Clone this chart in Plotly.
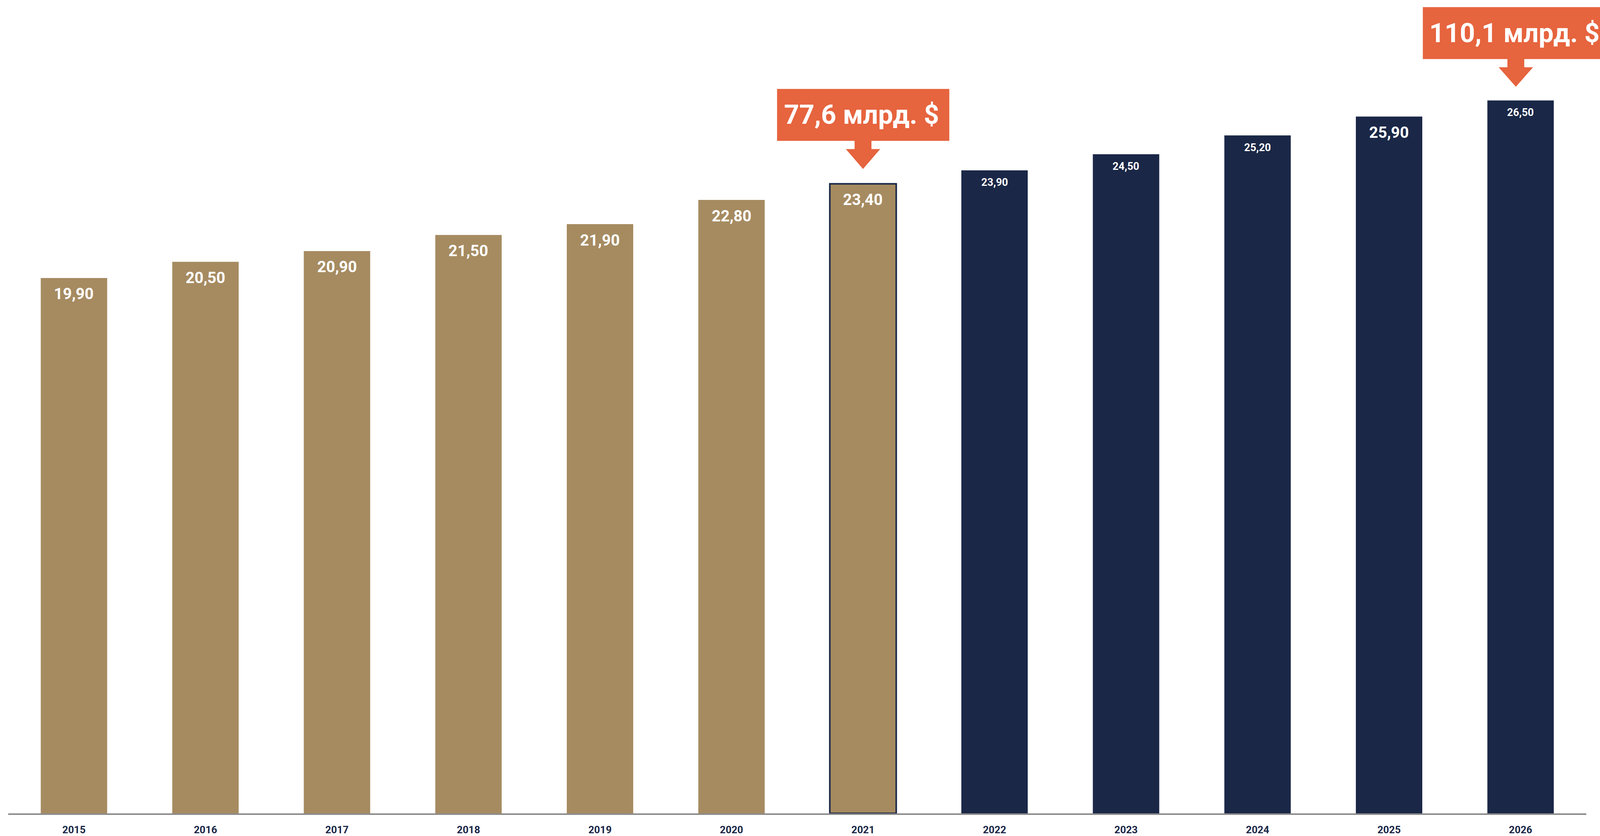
import plotly.graph_objects as go

# ---- data ----
years = ["2015", "2016", "2017", "2018", "2019", "2020", "2021",
         "2022", "2023", "2024", "2025", "2026"]
values = [19.90, 20.50, 20.90, 21.50, 21.90, 22.80, 23.40,
          23.90, 24.50, 25.20, 25.90, 26.50]
value_labels = ["19,90", "20,50", "20,90", "21,50", "21,90", "22,80", "23,40",
                "23,90", "24,50", "25,20", "25,90", "26,50"]
is_forecast = [False] * 7 + [True] * 5
large_label = [True] * 7 + [False, False, False, True, False]

callout_years = ["2021", "2026"]
callout_texts = ["77,6 млрд. $", "110,1 млрд. $"]

# ---- style ----
GOLD = "#A68B61"
NAVY = "#1A2747"
ORANGE = "#E6643E"
AXIS_GRAY = "#8C8C8C"
FONT = "Roboto"

# the browser viewport is 4096 px wide; the reference layout (4747 wide)
# is mapped horizontally onto it
W, H = 4096, 2141
SX = W / 4747
M_L, M_R, M_T, M_B = 21, 35, 0, 58
plot_w = W - M_L - M_R
plot_h = H - M_T - M_B
PX_PER_UNIT = 68.9
y_max = plot_h / PX_PER_UNIT
n = len(years)
PX_PER_CAT = plot_w / n


def paper_x(i, dx):
    """category index + pixel offset (reference px) -> paper fraction"""
    return ((i + 0.5) * PX_PER_CAT + dx * SX) / plot_w


def paper_y(v, dy):
    """value + pixel offset upward -> paper fraction"""
    return (v * PX_PER_UNIT + dy) / plot_h


colors = [NAVY if f else GOLD for f in is_forecast]
line_w = [4 if y == "2021" else 0 for y in years]

fig = go.Figure()
fig.add_trace(go.Bar(
    x=list(range(n)), y=values,
    marker=dict(color=colors, line=dict(color=NAVY, width=line_w)),
    hoverinfo="skip",
))

annotations = []
for i, (v, lab, big) in enumerate(zip(values, value_labels, large_label)):
    annotations.append(dict(
        x=i, y=v, xref="x", yref="y", text=f"<b>{lab}</b>",
        showarrow=False, yanchor="middle", xanchor="center",
        yshift=-41 if big else -31,
        font=dict(family=FONT, size=40 if big else 27, color="white"),
    ))

shapes = []
callout_geom = {
    "2021": dict(bx0=-255, bx1=256, by0=110, by1=243, ax=0,
                 stem_bot=89, tip=38, tx=-4),
    "2026": dict(bx0=-290, bx1=360, by0=106, by1=239, ax=-14,
                 stem_bot=85, tip=35, tx=-18),
}
for cy, ct in zip(callout_years, callout_texts):
    i = years.index(cy)
    v = values[i]
    g = callout_geom[cy]
    shapes.append(dict(
        type="rect", xref="paper", yref="paper",
        x0=paper_x(i, g["bx0"]), x1=paper_x(i, g["bx1"]),
        y0=paper_y(v, g["by0"]), y1=paper_y(v, g["by1"]),
        fillcolor=ORANGE, line=dict(width=0), layer="above",
    ))
    a = g["ax"]
    pts = [(a - 25, g["by0"] + 1), (a + 25, g["by0"] + 1), (a + 25, g["stem_bot"]),
           (a + 51, g["stem_bot"]), (a, g["tip"]), (a - 51, g["stem_bot"]),
           (a - 25, g["stem_bot"])]
    path = "M" + " L".join(f"{paper_x(i, dx):.6f},{paper_y(v, dy):.6f}"
                           for dx, dy in pts) + " Z"
    shapes.append(dict(
        type="path", xref="paper", yref="paper", path=path,
        fillcolor=ORANGE, line=dict(width=0), layer="above",
    ))
    annotations.append(dict(
        x=paper_x(i, g["tx"]), y=paper_y(v, (g["by0"] + g["by1"]) / 2),
        xref="paper", yref="paper", text=f"<b>{ct}</b>",
        showarrow=False, xanchor="center", yanchor="middle",
        font=dict(family=FONT, size=68, color="white"),
    ))

fig.update_layout(
    width=W, height=H, autosize=False,
    margin=dict(l=M_L, r=M_R, t=M_T, b=M_B, pad=0),
    paper_bgcolor="white", plot_bgcolor="white",
    bargap=0.495, showlegend=False,
    shapes=shapes, annotations=annotations,
    xaxis=dict(
        type="linear", range=[-0.5, n - 0.5],
        tickmode="array", tickvals=list(range(n)), ticktext=years,
        showline=True, linecolor=AXIS_GRAY, linewidth=4,
        ticks="outside", ticklen=16, tickcolor="rgba(0,0,0,0)",
        tickfont=dict(family=FONT, size=26, color=NAVY, weight="bold"),
        showgrid=False, zeroline=False, fixedrange=True,
    ),
    yaxis=dict(range=[0, y_max], visible=False, showgrid=False,
               zeroline=False, fixedrange=True),
)

fig.write_html("out.html", config={"displayModeBar": False},
               post_script="document.body.style.margin='0';")
